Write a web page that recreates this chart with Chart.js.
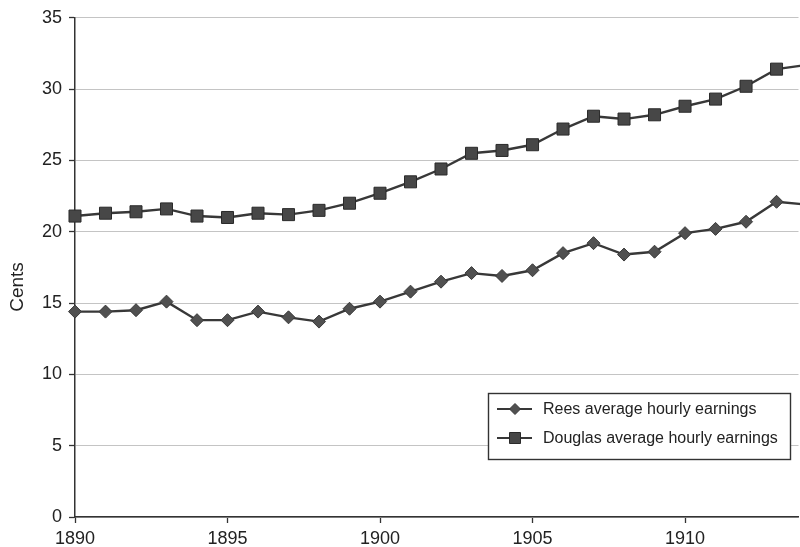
<!DOCTYPE html>
<html>
<head>
<meta charset="utf-8">
<script src="https://cdn.jsdelivr.net/npm/chart.js@4.4.1/dist/chart.umd.min.js"></script>
<style>
  html, body { margin: 0; padding: 0; background: #ffffff; overflow: hidden; }
  #wrap { position: relative; width: 800px; height: 547px; overflow: hidden; }
</style>
</head>
<body>
<div id="wrap"><canvas id="c" width="808" height="547"></canvas></div>
<script>
// ---- Data ----
const years = [1890, 1891, 1892, 1893, 1894, 1895, 1896, 1897, 1898, 1899,
               1900, 1901, 1902, 1903, 1904, 1905, 1906, 1907, 1908, 1909,
               1910, 1911, 1912, 1913, 1914];
const reesEarnings = [14.4, 14.4, 14.5, 15.1, 13.8, 13.8, 14.4, 14.0, 13.7, 14.6,
                      15.1, 15.8, 16.5, 17.1, 16.9, 17.3, 18.5, 19.2, 18.4, 18.6,
                      19.9, 20.2, 20.7, 22.1, 21.9];
const douglasEarnings = [21.1, 21.3, 21.4, 21.6, 21.1, 21.0, 21.3, 21.2, 21.5, 22.0,
                         22.7, 23.5, 24.4, 25.5, 25.7, 26.1, 27.2, 28.1, 27.9, 28.2,
                         28.8, 29.3, 30.2, 31.4, 31.7];
const seriesNames = ['Rees average hourly earnings', 'Douglas average hourly earnings'];
const yAxisTitle = 'Cents';
const yTicks = [0, 5, 10, 15, 20, 25, 30, 35];
const xTicks = [1890, 1895, 1900, 1905, 1910];

const FONT = '"Liberation Sans", Arial, Helvetica, sans-serif';
const TEXT = '#222222';
const LINE = '#383838';

const toPoints = (vals) => years.map((y, i) => ({ x: y, y: vals[i] }));

// custom legend + axis title drawn with the datasets' own styles
const decorations = {
  id: 'decorations',
  afterDraw(chart) {
    const ctx = chart.ctx;
    ctx.save();
    ctx.translate(18, 287);
    ctx.rotate(-Math.PI / 2);
    ctx.font = '19px ' + FONT;
    ctx.fillStyle = TEXT;
    ctx.textAlign = 'center';
    ctx.textBaseline = 'middle';
    ctx.fillText(yAxisTitle, 0, 0);
    ctx.restore();

    ctx.save();
    const bx = 488, by = 393, bw = 302, bh = 66;
    ctx.fillStyle = '#ffffff';
    ctx.fillRect(bx, by, bw, bh);
    ctx.strokeStyle = '#333333';
    ctx.lineWidth = 1.4;
    ctx.strokeRect(bx + 0.5, by + 0.5, bw, bh);
    const rows = [409, 438];
    chart.data.datasets.forEach((ds, i) => {
      const y = rows[i];
      ctx.strokeStyle = ds.borderColor;
      ctx.lineWidth = 2.2;
      ctx.beginPath();
      ctx.moveTo(497, y);
      ctx.lineTo(532, y);
      ctx.stroke();
      ctx.fillStyle = ds.pointBackgroundColor;
      ctx.strokeStyle = ds.pointBorderColor;
      ctx.lineWidth = 1;
      const cx = 515;
      ctx.beginPath();
      if (ds.pointStyle === 'rectRot') {
        const r = 5.5;
        ctx.moveTo(cx, y - r); ctx.lineTo(cx + r, y); ctx.lineTo(cx, y + r); ctx.lineTo(cx - r, y);
        ctx.closePath();
      } else {
        const s = 5.5;
        ctx.rect(cx - s, y - s, 2 * s, 2 * s);
      }
      ctx.fill();
      ctx.stroke();
      ctx.fillStyle = TEXT;
      ctx.font = '16px ' + FONT;
      ctx.textAlign = 'left';
      ctx.textBaseline = 'middle';
      ctx.fillText(ds.label, 543, y + 1);
    });
    ctx.restore();
  }
};

new Chart(document.getElementById('c'), {
  type: 'line',
  data: {
    datasets: [
      {
        label: seriesNames[0],
        data: toPoints(reesEarnings),
        borderColor: LINE,
        borderWidth: 2.4,
        pointStyle: 'rectRot',
        pointRadius: 6.5,
        pointBackgroundColor: '#505050',
        pointBorderColor: '#383838',
        pointBorderWidth: 1,
        tension: 0,
        clip: false
      },
      {
        label: seriesNames[1],
        data: toPoints(douglasEarnings),
        borderColor: LINE,
        borderWidth: 2.4,
        pointStyle: 'rect',
        pointRadius: 8.5,
        pointBackgroundColor: '#474747',
        pointBorderColor: '#2a2a2a',
        pointBorderWidth: 1,
        tension: 0,
        clip: false
      }
    ]
  },
  options: {
    responsive: false,
    animation: false,
    events: [],
    layout: { padding: { top: 14, right: 0, left: 0, bottom: 0 } },
    plugins: { legend: { display: false }, tooltip: { enabled: false } },
    scales: {
      x: {
        type: 'linear',
        min: 1890,
        max: 1913.72,
        afterFit(scale) { scale.height = 30; },
        afterBuildTicks(scale) { scale.ticks = xTicks.map(v => ({ value: v })); },
        ticks: {
          includeBounds: false,
          autoSkip: false,
          maxRotation: 0,
          padding: 5,
          color: TEXT,
          font: { family: FONT, size: 18 },
          callback: (v) => String(v)
        },
        grid: { drawOnChartArea: false, drawTicks: true, tickLength: 6, tickColor: '#333333', tickWidth: 1.3 },
        border: { display: true, color: '#333333', width: 1.5 }
      },
      y: {
        min: 0,
        max: 35,
        afterFit(scale) { scale.width = 75; },
        afterBuildTicks(scale) { scale.ticks = yTicks.map(v => ({ value: v })); },
        ticks: {
          padding: 7,
          color: TEXT,
          font: { family: FONT, size: 18 },
          callback: (v) => String(v)
        },
        grid: { color: '#c4c4c4', lineWidth: 1, drawTicks: true, tickLength: 6, tickColor: '#333333', tickWidth: 1.3 },
        border: { display: true, color: '#333333', width: 1.5 }
      }
    }
  },
  plugins: [decorations]
});
</script>
</body>
</html>
